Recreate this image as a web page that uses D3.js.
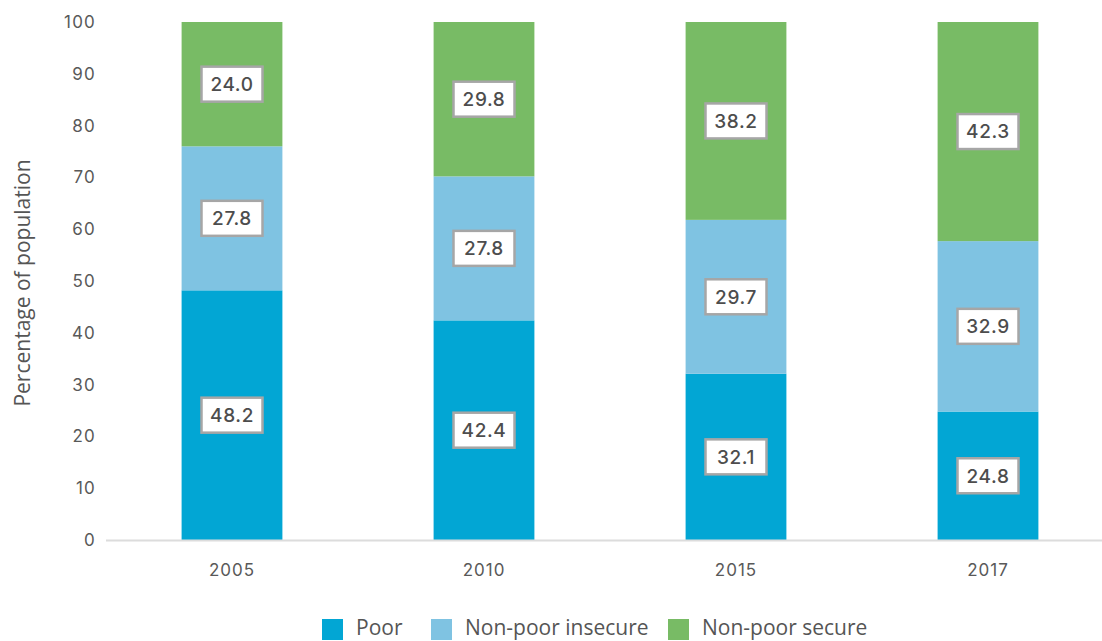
<!DOCTYPE html>
<html>
<head>
<meta charset="utf-8">
<script src="https://cdn.jsdelivr.net/npm/d3@7"></script>
<style>
  html, body { margin: 0; padding: 0; background: #fff; }
  svg { display: block; }
</style>
</head>
<body>
<svg id="chart" width="1102" height="641"></svg>
<script>
// Population shares by economic security group (percent)
const years = ["2005", "2010", "2015", "2017"];
const poor = [48.2, 42.4, 32.1, 24.8];
const nonPoorInsecure = [27.8, 27.8, 29.7, 32.9];
const nonPoorSecure = [24.0, 29.8, 38.2, 42.3];
const seriesNames = ["Poor", "Non-poor insecure", "Non-poor secure"];
const yTicks = [0, 10, 20, 30, 40, 50, 60, 70, 80, 90, 100];

const colors = ["#02a6d4", "#7fc3e2", "#78bb65"];
const numFont = "Inter, Lato, sans-serif";
const textFont = "'Open Sans', sans-serif";

const rows = years.map((y, i) => ({
  year: y,
  "Poor": poor[i],
  "Non-poor insecure": nonPoorInsecure[i],
  "Non-poor secure": nonPoorSecure[i]
}));

const svg = d3.select("#chart");
const x = d3.scaleBand().domain(years).range([106, 1114]).paddingInner(0.6).paddingOuter(0.3);
const y = d3.scaleLinear().domain([0, 100]).range([540, 22]);

const stack = d3.stack().keys(seriesNames)(rows);

// y-axis tick labels
const yAxis = svg.append("g").attr("transform", "translate(96,0)")
  .call(d3.axisLeft(y).tickValues(yTicks).tickSize(0).tickPadding(0));
yAxis.select(".domain").remove();
yAxis.selectAll("text")
  .attr("font-family", numFont)
  .attr("font-size", 17).attr("fill", "#595959").attr("letter-spacing", "1.2");

// axis title
svg.append("text")
  .attr("transform", "translate(30,283) rotate(-90)")
  .attr("text-anchor", "middle")
  .attr("font-family", textFont)
  .attr("font-size", 21).attr("fill", "#555")
  .text("Percentage of population");

// stacked bars
const layers = svg.append("g").selectAll("g").data(stack).join("g")
  .attr("fill", (d, i) => colors[i]);
layers.selectAll("rect").data(d => d).join("rect")
  .attr("x", d => x(d.data.year))
  .attr("width", x.bandwidth())
  .attr("y", d => y(d[1]))
  .attr("height", d => y(d[0]) - y(d[1]));

// baseline
svg.append("line")
  .attr("x1", 106).attr("x2", 1102)
  .attr("y1", y(0) + 0.5).attr("y2", y(0) + 0.5)
  .attr("stroke", "#dcdcdc").attr("stroke-width", 2);

// x-axis labels
const xAxis = svg.append("g").attr("transform", "translate(0,564)")
  .call(d3.axisBottom(x).tickSize(0).tickPadding(0));
xAxis.select(".domain").remove();
xAxis.selectAll("text")
  .attr("font-family", numFont)
  .attr("font-size", 17).attr("fill", "#595959").attr("letter-spacing", "1");

// value labels in boxes
const labels = svg.append("g");
stack.forEach(layer => {
  layer.forEach(d => {
    const v = d[1] - d[0];
    const cx = x(d.data.year) + x.bandwidth() / 2;
    const cy = y((d[0] + d[1]) / 2);
    const g = labels.append("g").attr("transform", `translate(${cx},${cy})`);
    g.append("rect")
      .attr("x", -30.5).attr("y", -17.5).attr("width", 61).attr("height", 35)
      .attr("fill", "#fff").attr("stroke", "#a6a6a6").attr("stroke-width", 2.5);
    g.append("text")
      .attr("text-anchor", "middle").attr("dy", "0.36em")
      .attr("font-family", numFont)
      .attr("font-weight", 500)
      .attr("font-size", 19).attr("fill", "#4d4d4d").attr("letter-spacing", "0.6")
      .text(v.toFixed(1));
  });
});

// legend
const legendX = [322, 431, 668];
const legend = svg.append("g");
seriesNames.forEach((name, i) => {
  const g = legend.append("g").attr("transform", `translate(${legendX[i]},619)`);
  g.append("rect").attr("width", 21).attr("height", 21).attr("fill", colors[i]);
  g.append("text").attr("x", 34).attr("y", 16)
    .attr("font-family", textFont)
    .attr("font-size", 21).attr("fill", "#555")
    .text(name);
});
</script>
</body>
</html>
